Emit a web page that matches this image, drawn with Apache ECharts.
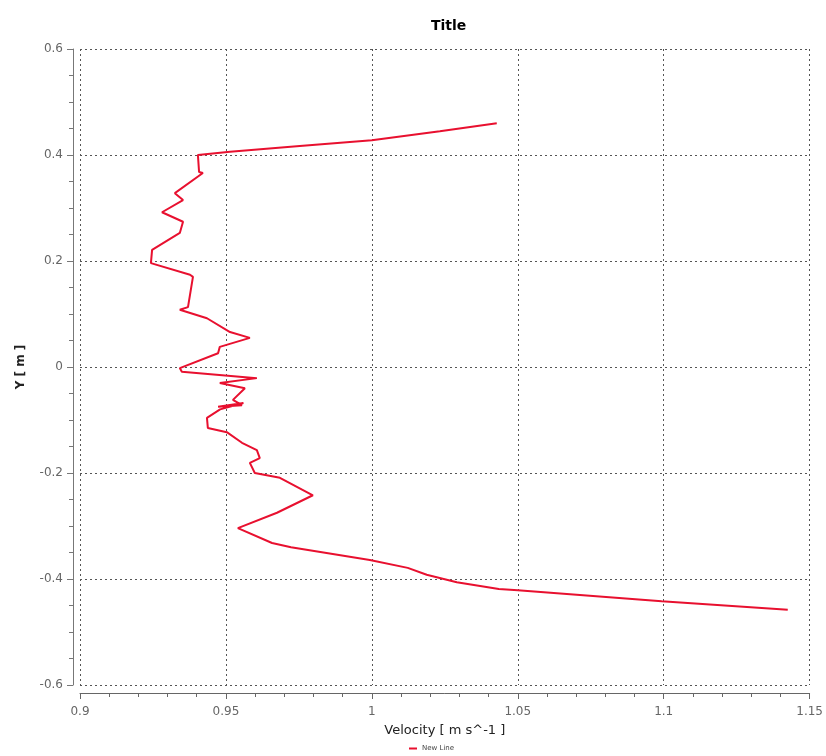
<!DOCTYPE html>
<html>
<head>
<meta charset="utf-8">
<script src="https://cdn.jsdelivr.net/npm/echarts@6/dist/echarts.min.js"></script>
<style>
  html, body { margin: 0; padding: 0; background: #fff; }
  #Chart { width: 826px; height: 756px; }
</style>
</head>
<body>
<div id="Chart"></div>
<script>
  // velocity profile from top to bottom
  var velocity = [1.0428, 1.0233, 1.0000, 0.9753, 0.9514, 0.9404, 0.9408, 0.9421, 0.9325, 0.9353,
    0.9281, 0.9353, 0.9342, 0.9247, 0.9243, 0.9377, 0.9387, 0.9370, 0.9342, 0.9435,
    0.9514, 0.9582, 0.9479, 0.9473, 0.9342, 0.9349, 0.9606, 0.9479, 0.9565, 0.9524,
    0.9555, 0.9473, 0.9560, 0.9480, 0.9435, 0.9438, 0.9503, 0.9555, 0.9606, 0.9616,
    0.9582, 0.9599, 0.9685, 0.9798, 0.9675, 0.9541, 0.9658, 0.9723, 0.9993, 1.0123,
    1.0188, 1.0291, 1.0435, 1.0500, 1.0993, 1.1425]
  var yPos = [0.460, 0.445, 0.428, 0.417, 0.406, 0.400, 0.368, 0.366, 0.328, 0.315,
    0.292, 0.274, 0.253, 0.221, 0.196, 0.174, 0.170, 0.113, 0.108, 0.092,
    0.066, 0.055, 0.038, 0.026, -0.002, -0.009, -0.021, -0.030, -0.040, -0.062,
    -0.072, -0.075, -0.068, -0.080, -0.096, -0.115, -0.123, -0.143, -0.157, -0.172,
    -0.181, -0.200, -0.209, -0.242, -0.275, -0.304, -0.332, -0.340, -0.364, -0.379,
    -0.392, -0.406, -0.419, -0.421, -0.442, -0.458]

  var chartTitle = 'Title'
  var xName = 'Velocity [ m s^-1 ]'
  var yName = 'Y [ m ]'
  var seriesName = 'New Line'

  var points = velocity.map(function (v, i) {
    return [v, yPos[i]]
  })

  var Chart = echarts.init(document.getElementById('Chart'))
  var font = '"DejaVu Sans", sans-serif'

  Chart.setOption({
    animation: false,
    title: {
      text: chartTitle,
      left: 426,
      top: 14,
      textStyle: { fontFamily: font, fontSize: 14, fontWeight: 'bold', color: '#000' }
    },
    legend: {
      data: [seriesName],
      left: 404,
      top: 740,
      itemWidth: 8,
      itemHeight: 2,
      itemGap: 4,
      icon: 'rect',
      textStyle: { fontFamily: font, fontSize: 7, color: '#444' }
    },
    grid: { left: 80, right: 16, top: 49, bottom: 71, containLabel: false },
    xAxis: {
      type: 'value',
      min: 0.9,
      max: 1.15,
      interval: 0.05,
      offset: 8,
      name: xName,
      nameLocation: 'middle',
      nameGap: 31,
      nameTextStyle: { fontFamily: font, fontSize: 13, color: '#222' },
      axisLine: { show: true, onZero: false, lineStyle: { color: '#666', width: 1 } },
      axisTick: { show: true, length: 6, lineStyle: { color: '#666' } },
      minorTick: { show: true, splitNumber: 5, length: 4, lineStyle: { color: '#666' } },
      axisLabel: {
        fontFamily: font, fontSize: 12, color: '#666', margin: 13,
        formatter: function (v) { return String(+v.toFixed(2)) }
      },
      splitLine: { show: true, lineStyle: { color: '#555', type: [2, 3], width: 1 } }
    },
    yAxis: {
      type: 'value',
      min: -0.6,
      max: 0.6,
      interval: 0.2,
      offset: 7,
      name: yName,
      nameLocation: 'middle',
      nameGap: 46,
      nameTextStyle: { fontFamily: font, fontSize: 12, fontWeight: 'bold', color: '#222' },
      axisLine: { show: true, onZero: false, lineStyle: { color: '#777', width: 1 } },
      axisTick: { show: true, length: 6, lineStyle: { color: '#777' } },
      minorTick: { show: true, splitNumber: 4, length: 4, lineStyle: { color: '#777' } },
      axisLabel: {
        fontFamily: font, fontSize: 12, color: '#666', margin: 10,
        formatter: function (v) { return String(+v.toFixed(1)) }
      },
      splitLine: { show: true, lineStyle: { color: '#555', type: [2, 3], width: 1 } }
    },
    series: [{
      name: seriesName,
      type: 'line',
      data: points,
      showSymbol: false,
      symbol: 'none',
      color: '#e8102f',
      lineStyle: { color: '#e8102f', width: 2 }
    }]
  })
</script>
</body>
</html>
